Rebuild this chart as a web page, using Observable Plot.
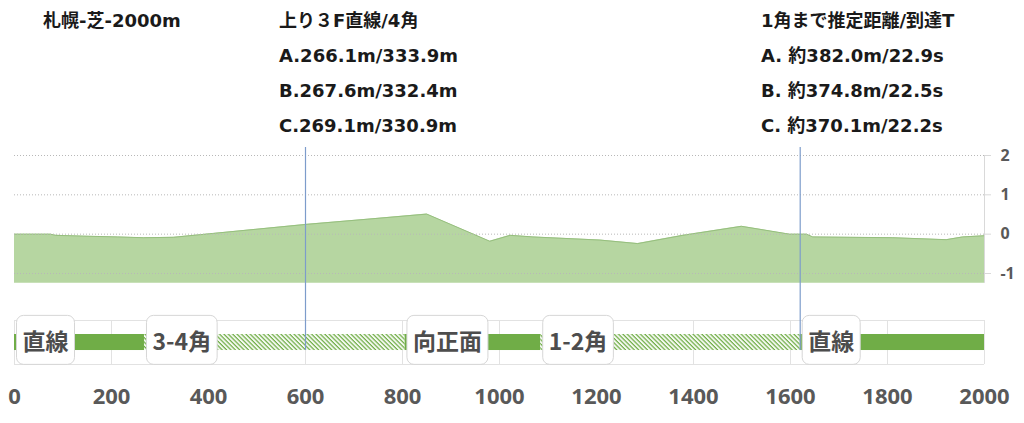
<!DOCTYPE html>
<html><head><meta charset="utf-8">
<script src="https://cdn.jsdelivr.net/npm/d3@7"></script>
<script src="https://cdn.jsdelivr.net/npm/@observablehq/plot@0.6"></script>
<style>
body{margin:0;background:#fff;}
#wrap{position:relative;width:1024px;height:423px;overflow:hidden;}
#head{position:relative;height:140px;font-family:"DejaVu Sans","Noto Sans CJK JP",sans-serif;font-weight:700;font-size:18px;color:#1a1a1a;}
.blk{position:absolute;top:3px;white-space:nowrap;}
.blk div{height:35px;line-height:35px;}
#chart svg{display:block;}
</style>
</head><body>
<div id="wrap">
  <div id="head"></div>
  <div id="chart"></div>
</div>
<script>
// ---- data ----
const titleLines = ["札幌-芝-2000m"];
const lastStretchLines = ["上り３F直線/4角", "A.266.1m/333.9m", "B.267.6m/332.4m", "C.269.1m/330.9m"];
const firstCornerLines = ["1角まで推定距離/到達T", "A. 約382.0m/22.9s", "B. 約374.8m/22.5s", "C. 約370.1m/22.2s"];

const distance  = [0, 74, 85, 143, 212, 266, 328, 410, 603, 727, 850, 980, 1022, 1069, 1207, 1285, 1378, 1499, 1598, 1633, 1646, 1811, 1921, 1955, 2000];
const elevation = [0.00, 0.00, -0.03, -0.05, -0.07, -0.09, -0.08, 0.02, 0.25, 0.38, 0.51, -0.18, -0.03, -0.07, -0.15, -0.24, -0.03, 0.20, 0.00, 0.00, -0.07, -0.09, -0.14, -0.07, -0.04];

const segStart = [0, 268, 805, 1085, 1620];
const segEnd   = [268, 805, 1085, 1620, 2000];
const segKind  = ["straight", "corner", "straight", "corner", "straight"];
const segLabel = ["直線", "3-4角", "向正面", "1-2角", "直線"];

const markers = [600, 1620];
const xTicks = [0, 200, 400, 600, 800, 1000, 1200, 1400, 1600, 1800, 2000];
const yTicks = [-1, 0, 1, 2];

// ---- header ----
const head = document.getElementById("head");
function block(lines, left){
  const b = document.createElement("div");
  b.className = "blk"; b.style.left = left + "px";
  lines.forEach(t => { const d = document.createElement("div"); d.textContent = t; b.appendChild(d); });
  head.appendChild(b);
}
block(titleLines, 43);
block(lastStretchLines, 279);
block(firstCornerLines, 761);

// ---- tables ----
const profile = distance.map((d, i) => ({d, e: elevation[i]}));
const segments = segStart.map((s, i) => ({s, e: segEnd[i], kind: segKind[i], label: segLabel[i]}));

const base = -1.25;
const stripTop = -2.195, stripBot = -3.314;
const barTop = -2.551, barBot = -2.958;
const stripMid = (barTop + barBot) / 2;

const chart = Plot.plot({
  width: 1024, height: 283,
  marginLeft: 14, marginRight: 40, marginTop: 15, marginBottom: 53,
  x: {domain: [0, 2000], axis: null},
  y: {domain: [-3.466, 2], axis: null},
  style: {fontFamily: '"Noto Sans","Noto Sans CJK JP",sans-serif', background: "#fff"},
  marks: [
    Plot.areaY(profile, {x: "d", y1: base, y2: "e", fill: "#b6d6a1"}),
    Plot.lineY(profile, {x: "d", y: "e", stroke: "#96bf7e", strokeWidth: 1}),
    Plot.ruleY(yTicks, {x1: 0, x2: 2000, stroke: "#b8b8b8", strokeDasharray: "1,2", strokeWidth: 1}),
    Plot.ruleX([2000], {y1: base, y2: 2, stroke: "#d9d9d9"}),
    Plot.axisY({anchor: "right", label: null, ticks: yTicks, tickSize: 6, tickPadding: 10, tickFormat: d => String(d),
      stroke: "#d9d9d9", fill: "#595959", fontSize: 16, fontWeight: "bold"}),
    // strip frame and grid
    Plot.ruleX(xTicks, {y1: stripTop, y2: stripBot, stroke: "#e2e2e2"}),
    Plot.ruleY([stripTop, stripBot], {x1: 0, x2: 2000, stroke: "#e2e2e2"}),
    // segments
    Plot.rect(segments.filter(s => s.kind === "straight"), {x1: "s", x2: "e", y1: barTop, y2: barBot, fill: "#70ad47"}),
    Plot.rect(segments.filter(s => s.kind === "corner"), {x1: "s", x2: "e", y1: barTop, y2: barBot, fill: "url(#hatch)"}),
    // markers
    Plot.ruleX(markers, {x: d => d, y1: 2.203, y2: -2.958, stroke: "#7d9ccb", strokeWidth: 1.2}),
    // segment labels
    Plot.text(segments, {x: "s", y: stripMid, text: "label", textAnchor: "start", dx: 8, fontSize: 23,
      fontWeight: "bold", fill: "#4d4d4d",
      fontFamily: '"Noto Sans CJK JP","Noto Sans",sans-serif'}),
    Plot.axisX({ticks: xTicks, tickSize: 0, tickPadding: 18, tickFormat: d => String(d),
      fill: "#595959", fontSize: 22, fontWeight: "bold", label: null})
  ]
});
document.getElementById("chart").appendChild(chart);

// hatch pattern
const defs = d3.select(chart).insert("defs", ":first-child");
const pat = defs.append("pattern").attr("id", "hatch").attr("patternUnits", "userSpaceOnUse")
  .attr("width", 3.1).attr("height", 3.1).attr("patternTransform", "rotate(45)");
pat.append("rect").attr("width", 3.1).attr("height", 3.1).attr("fill", "#f4f9f0");
pat.append("rect").attr("width", 3.1).attr("height", 1.2).attr("fill", "#70ad47");

// rounded boxes behind segment labels
const labelSet = new Set(segLabel);
d3.select(chart).selectAll("text").filter(function(){ return labelSet.has(this.textContent); }).each(function(){
  const bb = this.getBBox();
  const r = document.createElementNS("http://www.w3.org/2000/svg", "rect");
  const cy = bb.y + bb.height / 2;
  r.setAttribute("x", bb.x - 6);
  r.setAttribute("y", cy - 24.5);
  r.setAttribute("width", bb.width + 12);
  r.setAttribute("height", 49);
  r.setAttribute("rx", 7);
  r.setAttribute("fill", "#fff");
  r.setAttribute("stroke", "#d6d6d6");
  r.setAttribute("stroke-width", 1);
  if (this.getAttribute("transform")) r.setAttribute("transform", this.getAttribute("transform"));
  this.parentNode.insertBefore(r, this);
});
</script>
</body></html>
